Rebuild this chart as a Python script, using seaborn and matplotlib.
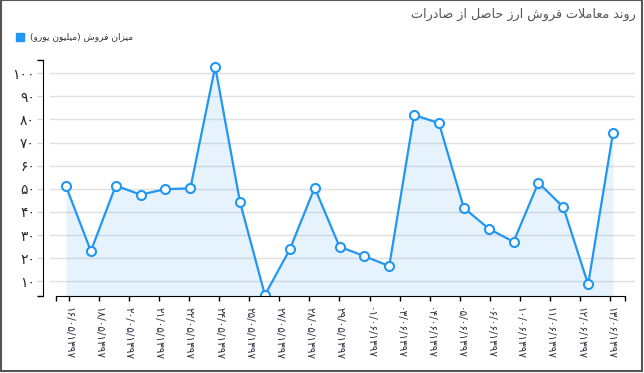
import numpy as np
import pandas as pd
import seaborn as sns
import matplotlib.pyplot as plt
from matplotlib.patches import Rectangle

# داده ها
title_text = "روند معاملات فروش ارز حاصل از صادرات"
legend_text = "میزان فروش (میلیون یورو)"
sales = [51.1, 23.1, 51.4, 47.5, 49.9, 50.2, 102.9, 44.2, 4.1, 23.8, 50.5,
         25.0, 20.9, 16.6, 82.0, 78.4, 41.8, 32.8, 27.1, 52.7, 42.1, 8.7, 74.2]
dates = ["۱۳۹۷/۰۵/۱۶", "۱۳۹۷/۰۵/۱۸", "۱۳۹۷/۰۵/۲۰", "۱۳۹۷/۰۵/۲۱", "۱۳۹۷/۰۵/۲۲",
         "۱۳۹۷/۰۵/۲۴", "۱۳۹۷/۰۵/۲۵", "۱۳۹۷/۰۵/۲۷", "۱۳۹۷/۰۵/۲۸", "۱۳۹۷/۰۵/۲۹",
         "۱۳۹۷/۰۶/۰۱", "۱۳۹۷/۰۶/۰۳", "۱۳۹۷/۰۶/۰۴", "۱۳۹۷/۰۶/۰۵", "۱۳۹۷/۰۶/۰۶",
         "۱۳۹۷/۰۶/۱۰", "۱۳۹۷/۰۶/۱۱", "۱۳۹۷/۰۶/۱۲", "۱۳۹۷/۰۶/۱۳"]
y_ticks = [10, 20, 30, 40, 50, 60, 70, 80, 90, 100]

# شکل های حروف: (تنها، پایانی، آغازی، میانی)
FORMS = {
    "ا": ("\uFE8D", "\uFE8E", None, None),
    "ت": ("\uFE95", "\uFE96", "\uFE97", "\uFE98"),
    "ح": ("\uFEA1", "\uFEA2", "\uFEA3", "\uFEA4"),
    "د": ("\uFEA9", "\uFEAA", None, None),
    "ر": ("\uFEAD", "\uFEAE", None, None),
    "ز": ("\uFEAF", "\uFEB0", None, None),
    "ش": ("\uFEB5", "\uFEB6", "\uFEB7", "\uFEB8"),
    "ص": ("\uFEB9", "\uFEBA", "\uFEBB", "\uFEBC"),
    "ع": ("\uFEC9", "\uFECA", "\uFECB", "\uFECC"),
    "ف": ("\uFED1", "\uFED2", "\uFED3", "\uFED4"),
    "ل": ("\uFEDD", "\uFEDE", "\uFEDF", "\uFEE0"),
    "م": ("\uFEE1", "\uFEE2", "\uFEE3", "\uFEE4"),
    "ن": ("\uFEE5", "\uFEE6", "\uFEE7", "\uFEE8"),
    "و": ("\uFEED", "\uFEEE", None, None),
    "ی": ("\uFBFC", "\uFBFD", "\uFBFE", "\uFBFF"),
}


def dual(c):
    return c in FORMS and FORMS[c][2] is not None


def rtl(text):
    # شکل دهی ساده حروف و برگرداندن ترتیب برای نمایش
    out = []
    i = 0
    while i < len(text):
        c = text[i]
        prev = text[i - 1] if i > 0 else ""
        nxt = text[i + 1] if i + 1 < len(text) else ""
        if c not in FORMS:
            out.append(c)
            i += 1
            continue
        join_prev = dual(prev)
        if c == "ل" and nxt == "ا":
            out.append("\uFEFC" if join_prev else "\uFEFB")
            i += 2
            continue
        join_next = dual(c) and nxt in FORMS
        f = FORMS[c]
        if join_prev and join_next:
            out.append(f[3])
        elif join_prev:
            out.append(f[1])
        elif join_next:
            out.append(f[2])
        else:
            out.append(f[0])
        i += 1
    s = "".join(out)[::-1]
    return s.translate(str.maketrans("()", ")("))


def fa_num(v):
    return str(v).translate(str.maketrans("0123456789", "۰۱۲۳۴۵۶۷۸۹"))


def date_visual(d):
    return "/".join(d.split("/")[::-1])


sns.set_style("white")
plt.rcParams['font.family'] = ['DejaVu Sans']

df = pd.DataFrame({"x": np.arange(len(sales)), "sales": sales})
blue = "#2196F3"
y_lo, y_hi = 3.8, 105.6

fig = plt.figure(figsize=(6.44, 3.73), dpi=100)
ax = fig.add_axes([50 / 644, 77.3 / 373, 585 / 644, 235.4 / 373])

ax.fill_between(df["x"], df["sales"], y_lo, color=blue, alpha=0.11, lw=0)
sns.lineplot(data=df, x="x", y="sales", ax=ax, color=blue, lw=1.6,
             marker="o", markersize=6.5, markerfacecolor="white",
             markeredgecolor=blue, markeredgewidth=1.5)

ax.set_xlim(-0.644, 22.885)
ax.set_ylim(y_lo, y_hi)
ax.set_xlabel("")
ax.set_ylabel("")

# محور افقی
tick_pos = np.linspace(0.109, 21.89, len(dates))
ax.set_xticks(tick_pos)
ax.set_xticklabels([fa_num(date_visual(d)) for d in dates], rotation=-90,
                   fontsize=7.6, color="#333344")
ax.set_xticks([-0.414, 22.5], minor=True)
ax.tick_params(axis="x", which="both", direction="out", length=3.6, width=1,
               color="black", pad=4.3, bottom=True)

# محور عمودی
ax.set_yticks(y_ticks)
ax.set_yticklabels([fa_num(v) for v in y_ticks], fontsize=5.0, color="#333344")
ax.set_yticks([y_lo, y_hi], minor=True)
ax.tick_params(axis="y", which="major", direction="out", length=4.3, width=1,
               color="#d8d8d8", pad=1.5, left=True)
ax.tick_params(axis="y", which="minor", direction="out", length=4.3, width=1,
               color="black", left=True)

ax.grid(axis="y", color="#e0e0e0", lw=1)
ax.grid(axis="x", visible=False)
ax.spines["top"].set_visible(False)
ax.spines["right"].set_visible(False)
ax.spines["left"].set_position(("outward", 5))
ax.spines["left"].set_color("black")
ax.spines["bottom"].set_color("black")
ax.spines["bottom"].set_bounds(-0.414, 22.5)

# عنوان و راهنما
fig.text(636 / 644, 359 / 373, rtl(title_text), ha="right", va="center",
         fontsize=9.2, color="#555555")
fig.add_artist(Rectangle((16 / 644, 332 / 373), 8 / 644, 8 / 373,
                         transform=fig.transFigure, color=blue))
fig.text(30 / 644, 336 / 373, rtl(legend_text), ha="left", va="center",
         fontsize=6.6, color="#333333")

fig.add_artist(Rectangle((1 / 644, 2 / 373), 641 / 644, 371 / 373,
                         transform=fig.transFigure, fill=False,
                         ec="#555555", lw=1.5))

fig.savefig("out.png", dpi=100)
